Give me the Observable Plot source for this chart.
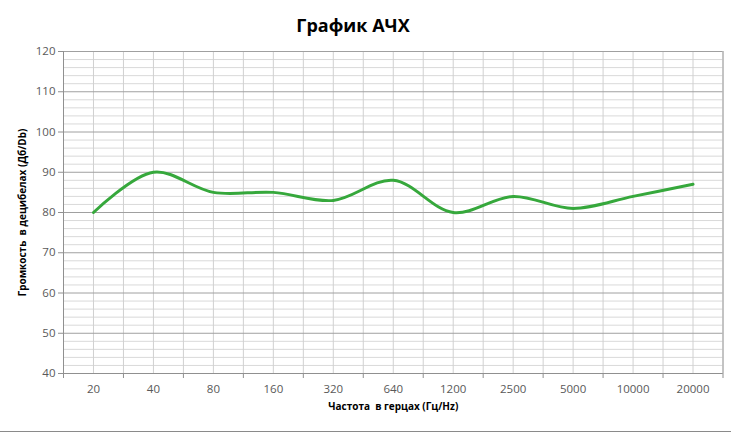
<!DOCTYPE html>
<html>
<head>
<meta charset="utf-8">
<script src="https://cdn.jsdelivr.net/npm/d3@7"></script>
<script src="https://cdn.jsdelivr.net/npm/@observablehq/plot@0.6"></script>
<style>
  html, body { margin: 0; padding: 0; background: #fff; }
  #wrap { width: 731px; height: 435px; position: relative; font-family: "Open Sans", "Noto Sans", sans-serif; }
  #title { height: 40px; line-height: 30px; padding-top: 10px; box-sizing: border-box; width: 706px; text-align: center; font-size: 18px; font-weight: bold; color: #000; }
  #bottom { border-top: 1px solid #8a8a8a; height: 3px; }
</style>
</head>
<body>
<div id="wrap">
  <div id="title">График АЧХ</div>
  <div id="chart"></div>
  <div id="bottom"></div>
</div>
<script>
const frequencies = ["20", "40", "80", "160", "320", "640", "1200", "2500", "5000", "10000", "20000"];
const loudness = [80, 90, 85, 85, 83, 88, 80, 84, 81, 84, 87];
const yTicks = [40, 50, 60, 70, 80, 90, 100, 110, 120];
const yMinorStep = 2;
const titleText = "График АЧХ";
const xLabel = "Частота  в герцах (Гц/Hz)";
const yLabel = "Громкость  в децибелах (Дб/Db)";

const data = frequencies.map((f, i) => ({i, f, v: loudness[i]}));
const idx = frequencies.map((_, i) => i);
const bounds = d3.range(-0.5, frequencies.length, 1);
const minor = d3.range(40, 121, yMinorStep).filter(v => v % 10 !== 0);
const vlines = [...idx, ...bounds];

const chart = Plot.plot({
  width: 731,
  height: 391,
  marginLeft: 63,
  marginRight: 8.5,
  marginTop: 11,
  marginBottom: 58,
  style: {fontFamily: "'Open Sans', 'Noto Sans', sans-serif", background: "#fff"},
  x: {type: "linear", domain: [-0.5, frequencies.length - 0.5], axis: null},
  y: {type: "linear", domain: [40, 120], axis: null},
  marks: [
    Plot.ruleY(minor, {stroke: "#d9d9d9", strokeWidth: 1}),
    Plot.ruleX(vlines, {stroke: "#d0d0d0", strokeWidth: 1}),
    Plot.ruleY(yTicks, {stroke: "#a0a0a0", strokeWidth: 1}),
    Plot.ruleX([frequencies.length - 0.5], {stroke: "#a0a0a0"}),
    Plot.ruleX([-0.5], {stroke: "#909090"}),
    Plot.ruleY([40], {stroke: "#909090"}),
    Plot.axisY({ticks: yTicks, tickSize: 5, tickPadding: 3, fontSize: 11.5, color: "#595959", stroke: "#909090", label: null, tickFormat: d => d}),
    Plot.axisX({ticks: bounds, tickSize: 5, tickFormat: () => "", stroke: "#909090", label: null}),
    Plot.axisX({ticks: idx, tickSize: 0, tickPadding: 11, fontSize: 11.5, color: "#595959", tickFormat: i => frequencies[i], label: null}),
    Plot.line(data, {x: "i", y: "v", curve: "catmull-rom", stroke: "#36a83c", strokeWidth: 3}),
    Plot.text([xLabel], {frameAnchor: "bottom", dy: 36, fontSize: 10, fontWeight: "bold", fill: "#000"}),
    Plot.text([yLabel], {frameAnchor: "left", textAnchor: "middle", dx: -41, rotate: -90, fontSize: 10, fontWeight: "bold", fill: "#000"})
  ]
});
document.getElementById("chart").appendChild(chart);
</script>
</body>
</html>
